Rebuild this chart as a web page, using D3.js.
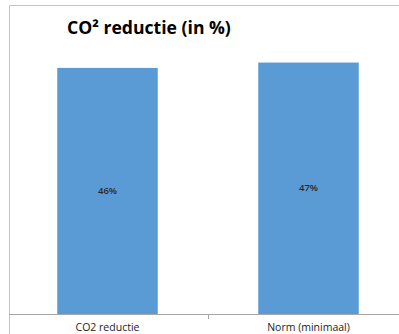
<!DOCTYPE html>
<html>
<head>
<meta charset="utf-8">
<script src="https://cdn.jsdelivr.net/npm/d3@7"></script>
<style>
  body { margin: 0; background: #fff; overflow: hidden; }
  text { font-family: "Open Sans", "DejaVu Sans", sans-serif; }
</style>
</head>
<body>
<script>
const categories = ["CO2 reductie", "Norm (minimaal)"];
const values = [46, 47];
const valueLabels = ["46%", "47%"];
const chartTitle = "CO² reductie (in %)";

const width = 399, height = 334;

const svg = d3.select("body").append("svg")
  .attr("width", width)
  .attr("height", height);

// chart frame (cropped excel chart, only left and top edges visible)
svg.append("path")
  .attr("d", `M9.5,${height} V5.5 H${width}`)
  .attr("fill", "none")
  .attr("stroke", "#c4c4c4")
  .attr("stroke-width", 1);

svg.append("text")
  .attr("x", 67)
  .attr("y", 34)
  .style("font-size", "17.6px")
  .style("font-weight", "bold")
  .attr("fill", "#000")
  .text(chartTitle);

const x = d3.scaleBand()
  .domain(categories)
  .range([7, 409])
  .paddingInner(0.5)
  .paddingOuter(0.25);

const y = d3.scaleLinear()
  .domain([0, 50])
  .range([314, 314 - 50 * 5.35]);

svg.selectAll("rect.bar")
  .data(values)
  .enter().append("rect")
  .attr("class", "bar")
  .attr("x", (d, i) => x(categories[i]))
  .attr("y", d => y(d))
  .attr("width", x.bandwidth())
  .attr("height", d => y(0) - y(d))
  .attr("fill", "#5b9bd5");

svg.selectAll("text.val")
  .data(values)
  .enter().append("text")
  .attr("class", "val")
  .attr("x", (d, i) => x(categories[i]) + x.bandwidth() / 2)
  .attr("y", d => (y(d) + y(0)) / 2 + 3)
  .attr("text-anchor", "middle")
  .style("font-size", "9.5px")
  .style("font-weight", "600")
  .attr("fill", "#2a2a2a")
  .text((d, i) => valueLabels[i]);

// baseline + category axis
const axis = d3.axisBottom(x).tickSize(0).tickPadding(10);
const gx = svg.append("g")
  .attr("transform", "translate(0,314)")
  .call(axis);
gx.select(".domain").remove();
gx.selectAll("text")
  .style("font-size", "10.5px")
  .style("font-family", "\"Open Sans\", sans-serif")
  .attr("fill", "#222");

svg.append("line")
  .attr("x1", 9).attr("x2", width)
  .attr("y1", 314.5).attr("y2", 314.5)
  .attr("stroke", "#a6a6a6");

// divider tick between categories
svg.append("line")
  .attr("x1", 208.5).attr("x2", 208.5)
  .attr("y1", 314).attr("y2", 319)
  .attr("stroke", "#a6a6a6");
</script>
</body>
</html>
